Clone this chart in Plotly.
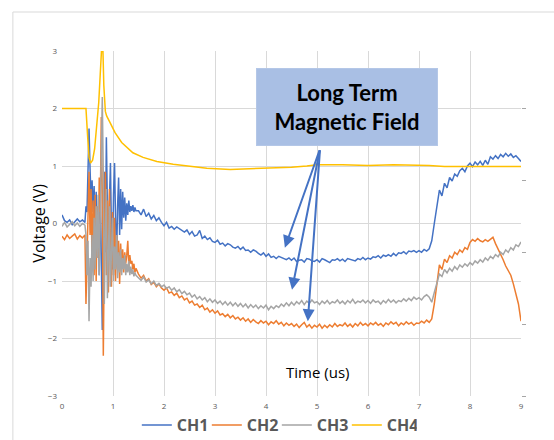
import numpy as np
import plotly.graph_objects as go

# ---- sample times (us) for CH1..CH3 ----
t_pre = np.round(np.arange(0.00, 0.451, 0.05), 2)      # 10 pts
t_burst = np.round(np.arange(0.47, 1.451, 0.02), 2)    # 50 pts
t_tail = np.round(np.arange(1.50, 9.001, 0.05), 2)     # 151 pts
time_us = np.concatenate([t_pre, t_burst, t_tail])

ch1_pre = [0.15, 0.05, 0.02, 0.06, -0.02, 0.04, 0.08, 0.03, 0.06, 0.02]
ch2_pre = [-0.22, -0.28, -0.20, -0.26, -0.22, -0.18, -0.27, -0.21, -0.25, -0.20]
ch3_pre = [-0.05, 0.02, -0.06, -0.02, 0.03, -0.04, 0.01, -0.05, 0.00, -0.03]

ch1_burst = [0.30, 0.20, 1.10, 1.65, 0.95, 0.40, 0.75, 0.20, 0.65, -0.30,
             0.55, -0.60, 0.30, -0.90, 0.70, -0.40, -1.85, 0.20, 0.90, -0.50,
             1.50, 0.30, -1.10, 0.40, 1.05, -0.20, -0.80, 0.50, 1.05, 0.10,
             -0.60, 0.30, 0.80, -0.20, 0.60, -0.10, 0.55, 0.10, 0.45, 0.05,
             0.35, 0.15, 0.40, 0.20, 0.30, 0.22, 0.32, 0.20, 0.28, 0.22]
ch2_burst = [-1.40, -0.50, 0.30, 0.90, -0.20, 0.60, -0.80, 0.40, -0.90, 0.50,
             -1.00, 0.30, -0.60, 0.80, 0.20, 1.85, 0.50, -2.30, -0.40, 0.90,
             -0.90, 0.40, -1.20, 0.60, -0.30, -1.10, 0.20, -0.90, 0.10, -1.00,
             -0.20, -0.80, -0.30, -1.05, -0.35, -0.75, -0.45, -0.85, -0.50, -0.70,
             -0.55, -0.30, -0.75, -0.55, -0.70, -0.65, -0.80, -0.70, -0.85, -0.78]
ch3_burst = [-0.20, -0.90, -0.30, -1.70, -0.60, -1.10, -0.20, -1.00, 0.10, -0.80,
             0.30, -0.60, 0.50, -0.90, 0.40, 1.50, 2.20, 0.80, -1.40, -0.20,
             0.60, -1.30, -0.10, 0.30, -1.10, -0.30, 0.10, -1.00, -0.40, -0.80,
             -0.20, -0.95, -0.50, -0.85, -0.45, -0.90, -0.60, -0.80, -0.55, -0.90,
             -0.70, -0.85, -0.65, -0.90, -0.75, -0.88, -0.80, -0.92, -0.85, -0.90]

ch1_tail = [0.22, 0.15, 0.25, 0.12, 0.18, 0.08, 0.14, 0.05, 0.10, 0.02,
            -0.04, 0.02, -0.08, -0.05, -0.10, -0.06, -0.09, -0.13, -0.15, -0.11,
            -0.19, -0.14, -0.22, -0.20, -0.12, -0.26, -0.22, -0.28, -0.25, -0.31,
            -0.33, -0.29, -0.36, -0.34, -0.39, -0.35, -0.37, -0.41, -0.43, -0.40,
            -0.45, -0.41, -0.47, -0.46, -0.50, -0.46, -0.48, -0.52, -0.55, -0.51,
            -0.57, -0.53, -0.59, -0.57, -0.61, -0.57, -0.59, -0.62, -0.63, -0.60,
            -0.64, -0.60, -0.66, -0.64, -0.63, -0.67, -0.61, -0.62, -0.65, -0.66,
            -0.63, -0.67, -0.61, -0.63, -0.65, -0.68, -0.63, -0.64, -0.61, -0.65,
            -0.62, -0.66, -0.61, -0.62, -0.64, -0.65, -0.61, -0.63, -0.59, -0.63,
            -0.60, -0.62, -0.58, -0.59, -0.56, -0.60, -0.55, -0.57, -0.54, -0.57,
            -0.52, -0.56, -0.51, -0.52, -0.49, -0.53, -0.48, -0.49, -0.47, -0.50,
            -0.47, -0.50, -0.45, -0.48, -0.44, -0.30, 0.00, 0.30, 0.58, 0.48,
            0.70, 0.62, 0.80, 0.74, 0.86, 0.82, 0.92, 0.96, 0.90, 1.00,
            1.05, 0.99, 1.07, 1.02, 1.08, 1.01, 1.10, 1.03, 1.16, 1.12,
            1.18, 1.13, 1.20, 1.16, 1.22, 1.17, 1.21, 1.15, 1.18, 1.13,
            1.08]
ch2_tail = [-0.88, -0.95, -0.90, -1.00, -0.96, -1.06, -1.02, -1.10, -1.05, -1.12,
            -1.16, -1.12, -1.21, -1.19, -1.25, -1.21, -1.29, -1.26, -1.33, -1.30,
            -1.38, -1.35, -1.42, -1.40, -1.46, -1.42, -1.50, -1.47, -1.54, -1.50,
            -1.56, -1.52, -1.59, -1.57, -1.62, -1.58, -1.64, -1.60, -1.66, -1.63,
            -1.68, -1.64, -1.70, -1.66, -1.72, -1.67, -1.71, -1.74, -1.69, -1.73,
            -1.70, -1.76, -1.71, -1.74, -1.69, -1.75, -1.72, -1.78, -1.73, -1.77,
            -1.74, -1.79, -1.75, -1.81, -1.76, -1.72, -1.80, -1.76, -1.82, -1.77,
            -1.80, -1.75, -1.82, -1.77, -1.81, -1.76, -1.80, -1.74, -1.79, -1.76,
            -1.78, -1.73, -1.79, -1.75, -1.80, -1.74, -1.78, -1.72, -1.77, -1.74,
            -1.78, -1.73, -1.76, -1.72, -1.77, -1.74, -1.79, -1.73, -1.76, -1.71,
            -1.75, -1.72, -1.78, -1.73, -1.76, -1.71, -1.75, -1.72, -1.77, -1.73,
            -1.74, -1.70, -1.73, -1.68, -1.72, -1.66, -1.40, -1.03, -0.72, -0.80,
            -0.62, -0.68, -0.56, -0.60, -0.50, -0.54, -0.46, -0.50, -0.42, -0.45,
            -0.33, -0.28, -0.31, -0.26, -0.30, -0.32, -0.28, -0.31, -0.27, -0.24,
            -0.35, -0.44, -0.55, -0.63, -0.74, -0.82, -0.90, -1.05, -1.22, -1.40,
            -1.70]
ch3_tail = [-0.94, -0.99, -0.93, -1.02, -0.98, -1.05, -1.00, -1.08, -1.04, -1.10,
            -1.07, -1.13, -1.10, -1.16, -1.12, -1.19, -1.15, -1.22, -1.18, -1.24,
            -1.21, -1.28, -1.24, -1.31, -1.27, -1.33, -1.29, -1.36, -1.31, -1.37,
            -1.33, -1.39, -1.35, -1.41, -1.36, -1.42, -1.37, -1.43, -1.38, -1.44,
            -1.39, -1.45, -1.40, -1.47, -1.41, -1.46, -1.42, -1.48, -1.43, -1.47,
            -1.42, -1.50, -1.44, -1.48, -1.43, -1.46, -1.40, -1.44, -1.38, -1.43,
            -1.37, -1.42, -1.36, -1.40, -1.34, -1.41, -1.35, -1.39, -1.33, -1.38,
            -1.36, -1.41, -1.35, -1.39, -1.34, -1.40, -1.36, -1.38, -1.33, -1.39,
            -1.35, -1.40, -1.34, -1.38, -1.32, -1.39, -1.35, -1.37, -1.33, -1.38,
            -1.34, -1.39, -1.33, -1.37, -1.35, -1.40, -1.34, -1.38, -1.32, -1.37,
            -1.33, -1.38, -1.34, -1.36, -1.31, -1.35, -1.30, -1.34, -1.28, -1.32,
            -1.29, -1.33, -1.27, -1.24, -1.28, -1.37, -1.20, -1.03, -0.88, -0.92,
            -0.80, -0.86, -0.78, -0.83, -0.75, -0.80, -0.72, -0.76, -0.70, -0.74,
            -0.68, -0.72, -0.65, -0.69, -0.63, -0.67, -0.60, -0.64, -0.57, -0.61,
            -0.54, -0.58, -0.50, -0.54, -0.46, -0.50, -0.42, -0.46, -0.37, -0.40,
            -0.32]

ch1 = ch1_pre + ch1_burst + ch1_tail
ch2 = ch2_pre + ch2_burst + ch2_tail
ch3 = ch3_pre + ch3_burst + ch3_tail

# CH4 (smooth trace)
t4 = [0.00, 0.20, 0.40, 0.47, 0.50, 0.53, 0.56, 0.60, 0.64, 0.68, 0.72, 0.75,
      0.78, 0.80, 0.82, 0.85, 0.875, 0.94, 1.04, 1.17, 1.27, 1.39, 1.59, 1.86,
      2.18, 2.50, 2.84, 3.30, 3.70, 4.10, 4.50, 4.80, 5.00, 5.50, 6.00, 6.50,
      7.00, 7.20, 7.50, 8.00, 8.50, 9.00]
ch4 = [2.00, 2.00, 2.00, 2.00, 1.55, 1.15, 1.05, 1.10, 1.30, 1.65, 2.10, 2.60,
       3.10, 3.10, 2.40, 1.95, 1.87, 1.76, 1.58, 1.41, 1.32, 1.23, 1.15, 1.08,
       1.03, 0.99, 0.96, 0.94, 0.95, 0.96, 0.98, 1.00, 1.02, 1.02, 1.01, 1.02,
       1.01, 1.01, 0.99, 0.99, 0.99, 0.99]

names = ["CH1", "CH2", "CH3", "CH4"]
colors = ["#4472C4", "#ED7D31", "#A5A5A5", "#FFC000"]

# callout
callout_text = "Long Term<br>Magnetic Field"
callout_pos = (5.59, 2.03)
arrow_tail = (5.06, 1.30)
arrow_tips = [(4.37, -0.42), (4.51, -1.15), (4.82, -1.70)]

fig = go.Figure()
series = [(time_us, ch1), (time_us, ch2), (time_us, ch3), (t4, ch4)]
for (tx, ty), n, c in zip(series, names, colors):
    fig.add_trace(go.Scatter(x=tx, y=ty, mode="lines", name=n,
                             line=dict(color=c, width=1.5)))

# secondary axis for the small right-hand ticks
fig.add_trace(go.Scatter(x=[0], y=[0], yaxis="y2", showlegend=False,
                         mode="markers", marker=dict(opacity=0),
                         hoverinfo="skip"))

grid = "#D9D9D9"
fig.update_layout(
    width=554, height=440,
    margin=dict(l=62, r=33, t=51, b=44, autoexpand=False),
    paper_bgcolor="white", plot_bgcolor="white",
    font=dict(family="Open Sans, sans-serif", color="#595959"),
    xaxis=dict(range=[0, 9], dtick=1, tick0=0, showgrid=True, gridcolor=grid,
               gridwidth=1, zeroline=False, showline=False, ticks="",
               tickfont=dict(size=8, color="#595959"), ticklabelstandoff=4),
    yaxis=dict(range=[-3, 3], dtick=1, tick0=0, showgrid=True, gridcolor=grid,
               gridwidth=1, zeroline=True, zerolinecolor=grid, zerolinewidth=1,
               showline=False, ticks="",
               tickfont=dict(size=8, color="#595959"), ticklabelstandoff=4),
    yaxis2=dict(overlaying="y", side="right", range=[0, 4.8], dtick=1,
                showgrid=False, zeroline=False, showticklabels=False,
                ticks="outside", ticklen=4, tickcolor="#A6A6A6", showline=False),
    legend=dict(orientation="h", x=0.163, xanchor="left",
                yref="container", y=0.034, yanchor="middle",
                font=dict(size=16, color="#595959",
                          family="Open Sans, sans-serif", weight="bold"),
                entrywidth=25, entrywidthmode="pixels",
                tracegroupgap=0, bgcolor="rgba(0,0,0,0)"),
    showlegend=True,
)

# outer chart frame
fig.add_shape(type="rect", xref="paper", yref="paper",
              x0=-0.107, x1=1.3, y0=-0.3, y1=1.113,
              line=dict(color="#D9D9D9", width=1), fillcolor="rgba(0,0,0,0)",
              layer="below")

# axis titles (placed as in the original)
fig.add_annotation(text="Time (us)", xref="paper", yref="paper",
                   x=0.557, y=0.035, showarrow=False,
                   font=dict(size=15, color="#000000",
                             family="Open Sans, sans-serif"))
fig.add_annotation(text="Voltage (V)", xref="paper", yref="paper",
                   x=-0.052, y=0.5, textangle=-90, showarrow=False,
                   xanchor="center", yanchor="middle",
                   font=dict(size=16, color="#000000",
                             family="Open Sans, sans-serif"))

# arrows
for tip in arrow_tips:
    fig.add_annotation(x=tip[0], y=tip[1], ax=arrow_tail[0], ay=arrow_tail[1],
                       xref="x", yref="y", axref="x", ayref="y", text="",
                       showarrow=True, arrowhead=2, arrowsize=1.2,
                       arrowwidth=2, arrowcolor="#4472C4")

# callout box
fig.add_annotation(x=callout_pos[0], y=callout_pos[1], xref="x", yref="y",
                   text=callout_text, showarrow=False, width=176, height=72,
                   bgcolor="#A9BFE4", bordercolor="#B4C7E7", borderwidth=1,
                   borderpad=2,
                   font=dict(size=22, color="#000000", family="Lato, sans-serif",
                             weight="bold"))

fig.write_html("out.html")
